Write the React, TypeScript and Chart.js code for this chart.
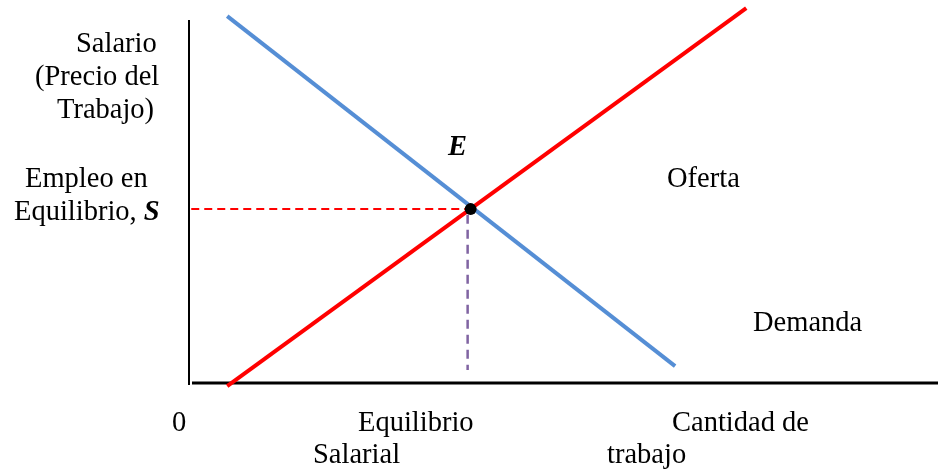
import React, { useEffect, useRef } from "react";
import { Chart, registerables } from "chart.js";

Chart.register(...registerables);

// Curves (x = cantidad de trabajo, y = salario), arbitrary units 0..100
const demandX = [5.1, 64.9];
const demandY = [95.8, 4.4];
const supplyX = [5.1, 74.4];
const supplyY = [-0.8, 97.9];
const equilibriumX = [37.6];
const equilibriumY = [45.4];
const wageGuideX = [0.3, 37.6];
const wageGuideY = [45.4, 45.4];
const qtyGuideX = [37.2, 37.2];
const qtyGuideY = [43.9, 3.4];
const yAxisX = [0, 0];
const yAxisY = [-0.5, 94.8];
const xAxisX = [0.4, 100];
const xAxisY = [0, 0];

const pts = (xs: number[], ys: number[]) => xs.map((x, i) => ({ x, y: ys[i] }));

const FONT = '"Liberation Serif", "Times New Roman", serif';
const SIZE = 28.5;

type Lbl = { parts: { t: string; bi?: boolean }[]; x: number; y: number };
const labels: Lbl[] = [
  { parts: [{ t: "Salario" }], x: 76, y: 52 },
  { parts: [{ t: "(Precio del" }], x: 35, y: 85 },
  { parts: [{ t: "Trabajo)" }], x: 57, y: 118 },
  { parts: [{ t: "Empleo en" }], x: 25, y: 187 },
  { parts: [{ t: "Equilibrio, " }, { t: "S", bi: true }], x: 14, y: 220 },
  { parts: [{ t: "E", bi: true }], x: 448, y: 155 },
  { parts: [{ t: "Oferta" }], x: 667, y: 187 },
  { parts: [{ t: "Demanda" }], x: 753, y: 331 },
  { parts: [{ t: "0" }], x: 172, y: 431 },
  { parts: [{ t: "Equilibrio" }], x: 358, y: 431 },
  { parts: [{ t: "Salarial" }], x: 313, y: 463 },
  { parts: [{ t: "Cantidad de" }], x: 672, y: 431 },
  { parts: [{ t: "trabajo" }], x: 607, y: 463 },
];

const textPlugin = {
  id: "textLabels",
  afterDraw(chart: any) {
    const ctx = chart.ctx as CanvasRenderingContext2D;
    ctx.save();
    ctx.fillStyle = "#000";
    ctx.textBaseline = "alphabetic";
    ctx.textAlign = "left";
    for (const l of labels) {
      let x = l.x;
      for (const p of l.parts) {
        ctx.font = p.bi ? `italic bold ${SIZE}px ${FONT}` : `${SIZE}px ${FONT}`;
        ctx.fillText(p.t, x, l.y);
        x += ctx.measureText(p.t).width;
      }
    }
    ctx.restore();
  },
};

export default function App() {
  const ref = useRef<HTMLCanvasElement>(null);
  useEffect(() => {
    if (!ref.current) return;
    const line = (data: any[], color: string, width: number, dash: number[] = []) => ({
      data,
      borderColor: color,
      backgroundColor: color,
      borderWidth: width,
      borderDash: dash,
      showLine: true,
      pointRadius: 0,
      fill: false,
      tension: 0,
      clip: false as any,
      borderCapStyle: "butt" as const,
    });
    const chart = new Chart(ref.current, {
      type: "scatter",
      data: {
        datasets: [
          {
            data: pts(equilibriumX, equilibriumY),
            showLine: false,
            pointRadius: 6,
            pointBackgroundColor: "#000",
            pointBorderColor: "#000",
            pointBorderWidth: 0,
            clip: false as any,
          },
          line(pts(supplyX, supplyY), "#FF0000", 4),
          line(pts(demandX, demandY), "#558ED5", 4),
          line(pts(qtyGuideX, qtyGuideY), "#8064A2", 2.5, [9, 6]),
          line(pts(wageGuideX, wageGuideY), "#FF0000", 2, [8, 5]),
          line(pts(xAxisX, xAxisY), "#000000", 3),
          line(pts(yAxisX, yAxisY), "#000000", 2),
        ],
      },
      options: {
        animation: false,
        responsive: false,
        events: [],
        layout: { autoPadding: false, padding: { left: 189, right: 1, top: 0, bottom: 89 } },
        scales: {
          x: { type: "linear", min: 0, max: 100, display: false },
          y: { type: "linear", min: 0, max: 100, display: false },
        },
        plugins: { legend: { display: false }, tooltip: { enabled: false } },
      },
      plugins: [textPlugin],
    });
    return () => chart.destroy();
  }, []);
  return (
    <div style={{ position: "absolute", left: 0, top: 0, width: 939, height: 472, background: "#fff" }}>
      <canvas ref={ref} width={939} height={472} style={{ display: "block" }} />
    </div>
  );
}
